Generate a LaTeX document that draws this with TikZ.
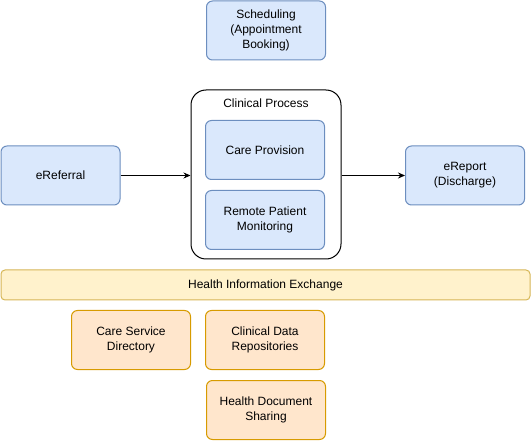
\documentclass[tikz,border=0pt]{standalone}
\usepackage{fontspec}
\setmainfont{Liberation Sans}
\usetikzlibrary{arrows.meta}
\definecolor{blueFill}{HTML}{DAE8FC}
\definecolor{blueLine}{HTML}{6C8EBF}
\definecolor{orangeFill}{HTML}{FFE6CC}
\definecolor{orangeLine}{HTML}{D79B00}
\definecolor{yellowFill}{HTML}{FFF2CC}
\definecolor{yellowLine}{HTML}{D6B656}

\begin{document}
\begin{tikzpicture}[x=1pt, y=-1pt, line width=1pt, font=\fontsize{12}{15}\selectfont,
    bluebox/.style={draw=blueLine, fill=blueFill, rounded corners=6pt, minimum width=119pt, minimum height=59pt, align=center, inner sep=1pt},
    orangebox/.style={draw=orangeLine, fill=orangeFill, rounded corners=6pt, minimum width=119pt, minimum height=59pt, align=center, inner sep=1pt},
    flow/.style={-{Stealth[length=7pt, width=6pt]}}]
            \useasboundingbox (0,0) rectangle (531,441);
            % Define boxes
            \node[bluebox] (sched) at (266, 30.5) {Scheduling\\(Appointment\\Booking)};
            \node[draw, rounded corners=15pt, minimum width=150pt, minimum height=169pt] (clin) at (266, 174.5) {};
            \node[anchor=north] (clintitle) at ([yshift=-5.5pt]clin.north) {Clinical Process};
            \node[bluebox] (care) at (265, 150) {Care Provision};
            \node[bluebox] (remote) at (265, 220) {Remote Patient\\Monitoring};
            \node[bluebox] (eref) at (60.5, 175.5) {eReferral};
            \node[bluebox] (erep) at (465, 175.5) {eReport\\(Discharge)};
            \node[draw=yellowLine, fill=yellowFill, rounded corners=4pt, minimum width=529pt, minimum height=30pt] (hie) at (265.5, 285) {Health Information Exchange};
            \node[orangebox] (csd) at (131, 340) {Care Service\\Directory};
            \node[orangebox] (cdr) at (265, 340) {Clinical Data\\Repositories};
            \node[orangebox] (hds) at (266, 410) {Health Document\\Sharing};
            % Draw flow arrows
            \draw[flow] (eref) -- (eref -| clin.west);
            \draw[flow] (clin.east |- erep) -- (erep);
        \end{tikzpicture}
\end{document}
